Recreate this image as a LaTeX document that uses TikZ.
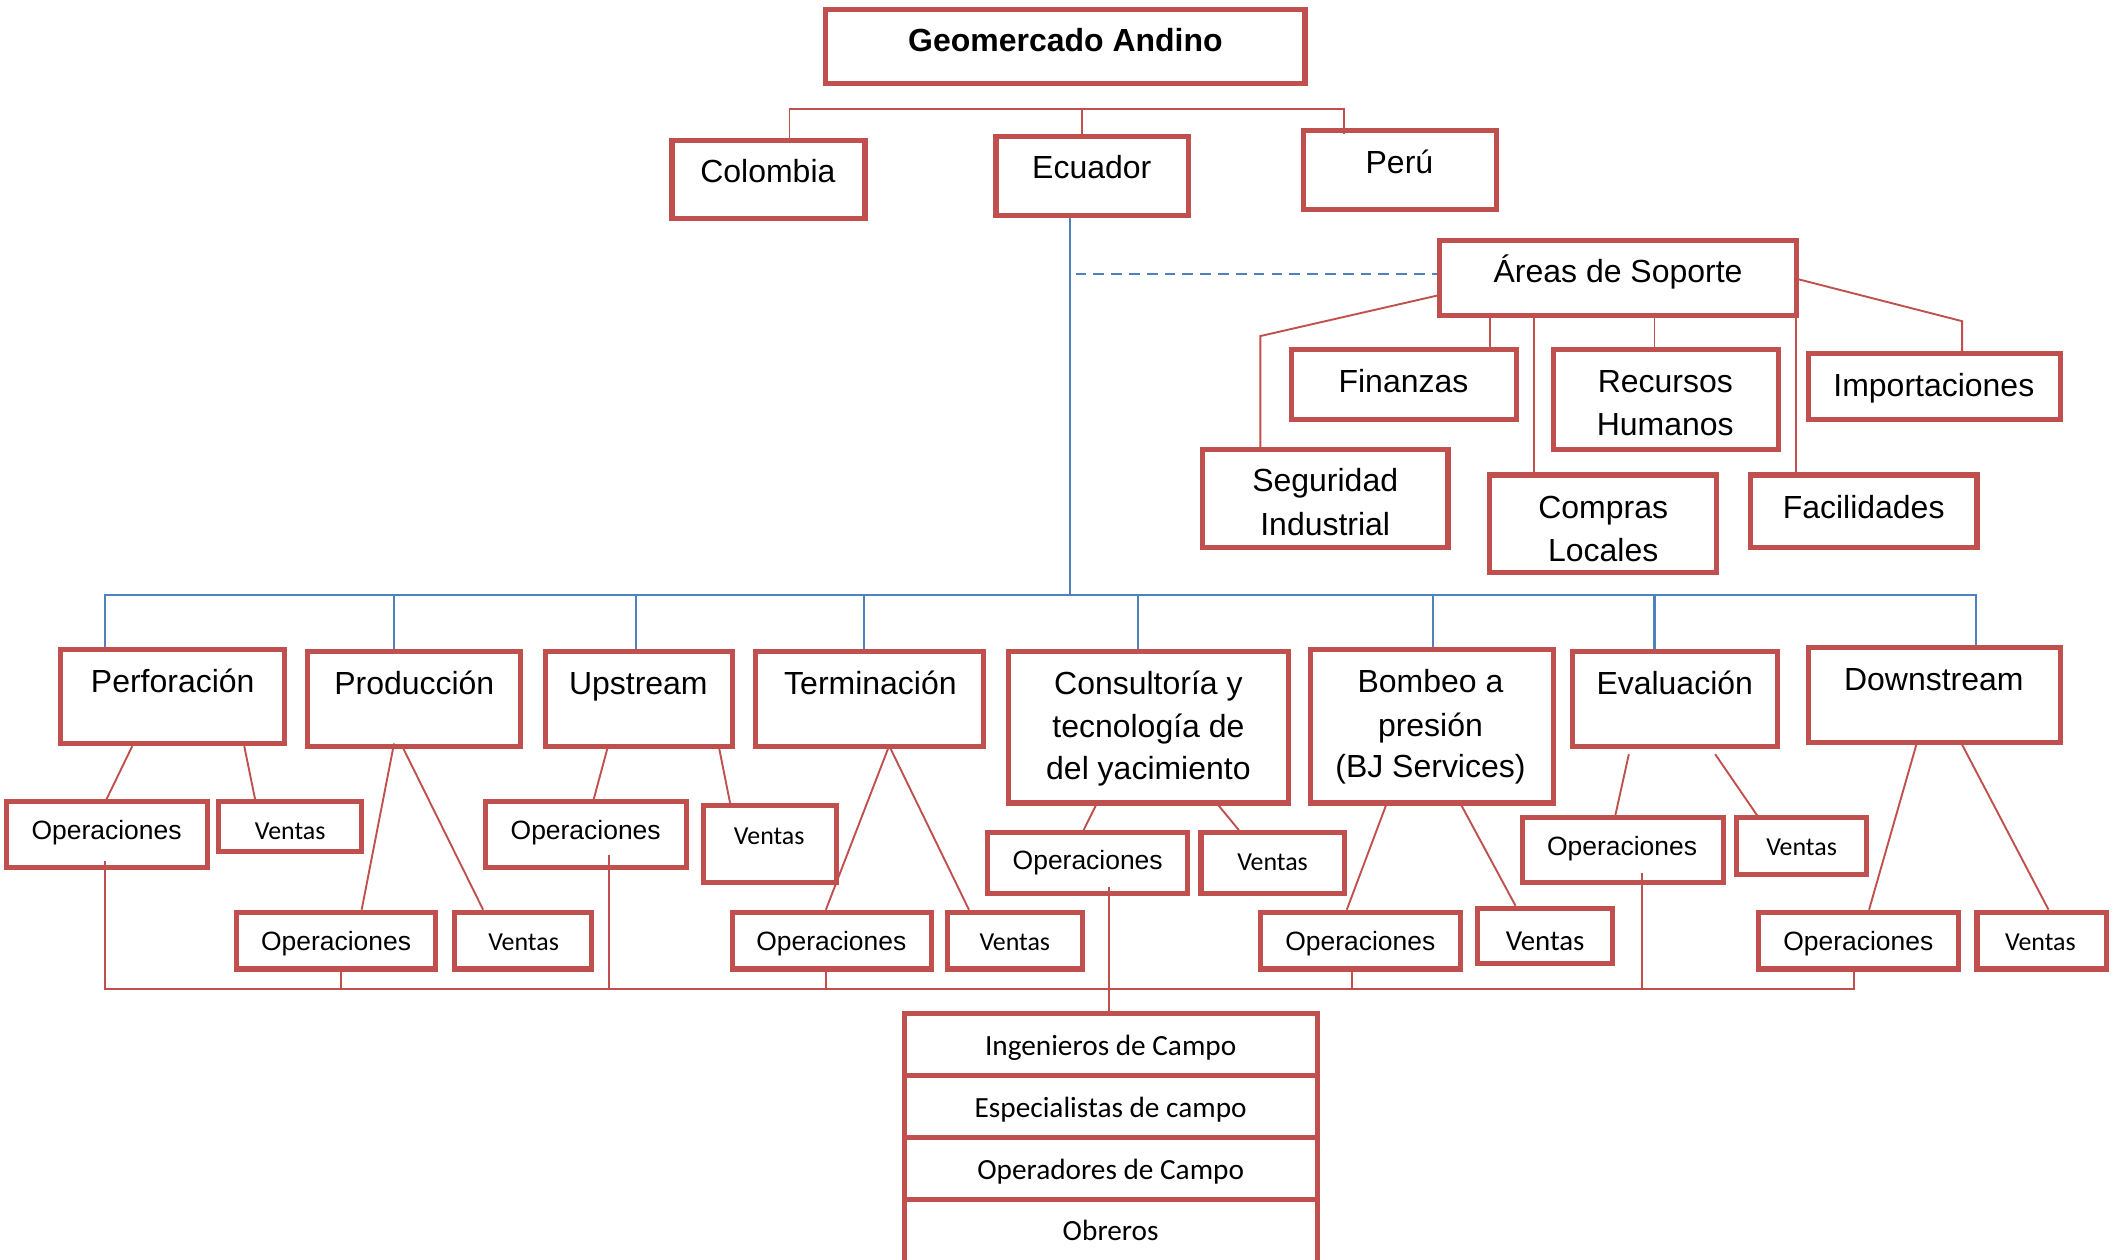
\documentclass[tikz,border=0pt]{standalone}
\usepackage{fontspec}
\setmainfont{Liberation Sans}
\newfontfamily\calfont{Carlito}
\usetikzlibrary{fit,calc}
\definecolor{bred}{HTML}{C0504D}
\definecolor{bblue}{HTML}{4F81BD}
\newcommand\bx[5]{\node[obox, fit={(#2,#3) (#4,#5)}] (#1) {};}
\begin{document}
\begin{tikzpicture}[x=0.5pt,y=-0.5pt,
  obox/.style={draw=bred, line width=1.9pt, inner sep=0pt},
  big/.style={anchor=base, inner sep=0pt, font={\fontsize{11.85}{14}\selectfont}},
  ttl/.style={anchor=base, inner sep=0pt, font={\bfseries\fontsize{11.85}{14}\selectfont}},
  ops/.style={anchor=base, inner sep=0pt, font={\fontsize{9.8}{12}\selectfont}},
  ven/.style={anchor=base, inner sep=0pt, font={\calfont\fontsize{9.6}{12}\selectfont}},
  stk/.style={anchor=base, inner sep=0pt, font={\calfont\fontsize{10.85}{13}\selectfont}},
  rl/.style={draw=bred, line width=0.7pt},
  bl/.style={draw=bblue, line width=0.8pt},
  bd/.style={draw=bblue, line width=0.9pt, dash pattern=on 4pt off 2.6pt}]
\useasboundingbox (0,0) rectangle (1568,933);
\fill[white] (0,0) rectangle (1568,933);
% boxes
\bx{geo}{612}{7}{967}{62}
\bx{col}{498}{104}{641}{162}
\bx{ecu}{738}{101}{881}{160}
\bx{peru}{966}{97}{1109}{155}
\bx{are}{1067}{178}{1331}{234}
\bx{fin}{957}{259}{1124}{311}
\bx{rec}{1151}{259}{1318}{333}
\bx{imp}{1340}{262}{1527}{311}
\bx{seg}{891}{333}{1073}{406}
\bx{com}{1104}{352}{1272}{424}
\bx{fac}{1297}{352}{1465}{406}
\bx{perf}{45}{481}{211}{551}
\bx{prod}{228}{483}{386}{553}
\bx{ups}{404}{483}{543}{553}
\bx{ter}{560}{483}{729}{553}
\bx{con}{747}{483}{955}{595}
\bx{bom}{971}{481}{1151}{595}
\bx{eva}{1165}{483}{1317}{553}
\bx{dow}{1340}{480}{1527}{550}
\bx{perfo}{5}{594}{154}{643}
\bx{perfv}{162}{594}{268}{631}
\bx{prodo}{175}{676}{323}{718}
\bx{prodv}{337}{676}{438}{718}
\bx{upso}{360}{594}{509}{643}
\bx{upsv}{521}{597}{620}{654}
\bx{tero}{543}{676}{690}{718}
\bx{terv}{702}{676}{802}{718}
\bx{cono}{732}{617}{880}{662}
\bx{conv}{890}{617}{996}{662}
\bx{bomo}{934}{676}{1082}{718}
\bx{bomv}{1095}{673}{1195}{714}
\bx{evao}{1128}{606}{1277}{654}
\bx{evav}{1287}{606}{1383}{648}
\bx{dowo}{1303}{676}{1451}{718}
\bx{dowv}{1465}{676}{1561}{718}
\bx{st1}{670}{751}{976}{797}
\bx{st2}{670}{797}{976}{843}
\bx{st3}{670}{843}{976}{889}
\bx{st4}{670}{889}{976}{945}
% texts
\node[ttl] (geo-t) at (789.5,38.5) {Geomercado Andino};
\node[big] (col-t) at (569,135.5) {Colombia};
\node[big] (ecu-t) at (809,132.5) {Ecuador};
\node[big] (peru-t) at (1037,128.5) {Perú};
\node[big] (are-t) at (1199,209.5) {Áreas de Soporte};
\node[big] (fin-t) at (1040,290.5) {Finanzas};
\node[big] (rec-t1) at (1234,290.5) {Recursos};
\node[big] (rec-t2) at (1234,322.5) {Humanos};
\node[big] (imp-t) at (1433,293.5) {Importaciones};
\node[big] (seg-t1) at (982,364.5) {Seguridad};
\node[big] (seg-t2) at (982,396.5) {Industrial};
\node[big] (com-t1) at (1188,384.5) {Compras};
\node[big] (com-t2) at (1188,416) {Locales};
\node[big] (fac-t) at (1381,384.5) {Facilidades};
\node[big] (perf-t) at (128,513.5) {Perforación};
\node[big] (prod-t) at (307,514.5) {Producción};
\node[big] (ups-t) at (473,514.5) {Upstream};
\node[big] (ter-t) at (645,514.5) {Terminación};
\node[big] (con-t1) at (851,514.5) {Consultoría y};
\node[big] (con-t2) at (851,546.5) {tecnología de};
\node[big] (con-t3) at (851,577.5) {del yacimiento};
\node[big] (bom-t1) at (1060,513.5) {Bombeo a};
\node[big] (bom-t2) at (1060,545.5) {presión};
\node[big] (bom-t3) at (1060,576) {(BJ Services)};
\node[big] (eva-t) at (1241,514.5) {Evaluación};
\node[big] (dow-t) at (1433,511.5) {Downstream};
\node[ops] (perfo-t) at (79,622) {Operaciones};
\node[ops] (prodo-t) at (249,704) {Operaciones};
\node[ops] (upso-t) at (434,622) {Operaciones};
\node[ops] (tero-t) at (616,704) {Operaciones};
\node[ops] (cono-t) at (806,644) {Operaciones};
\node[ops] (bomo-t) at (1008,704) {Operaciones};
\node[ops] (evao-t) at (1202,634) {Operaciones};
\node[ops] (dowo-t) at (1377,704) {Operaciones};
\node[ven] (perfv-t) at (215,622) {Ventas};
\node[ven] (prodv-t) at (388,704) {Ventas};
\node[ven] (upsv-t) at (570,626) {Ventas};
\node[ven] (terv-t) at (752,704) {Ventas};
\node[ven] (conv-t) at (943,645) {Ventas};
\node[ven, font={\calfont\fontsize{10.7}{12}\selectfont}] (bomv-t) at (1145,704) {Ventas};
\node[ven] (evav-t) at (1335,634) {Ventas};
\node[ven] (dowv-t) at (1512,704) {Ventas};
\node[stk] (st1-t) at (823,782) {Ingenieros de Campo};
\node[stk] (st2-t) at (823,828) {Especialistas de campo};
\node[stk] (st3-t) at (823,874) {Operadores de Campo};
\node[stk] (st4-t) at (823,919) {Obreros};
% bus coordinates
\coordinate (tbus) at (0,81);
\coordinate (bbus) at (0,441);
\coordinate (rbus) at (0,733);
\coordinate (dstart) at (797,203);
% top connectors
\draw[rl] (col.north -| 585,0) -- (tbus -| 585,0) -- (tbus -| 996,0) -- ($(peru.north -| 996,0)+(0,4)$);
\draw[rl] (tbus -| 802,0) -- (ecu.north -| 802,0);
% Ecuador down and support
\draw[bl] (ecu.south -| 793,0) -- (bbus -| 793,0);
\draw[bd] (dstart) -- (are.west |- dstart);
\draw[rl] (are.west |- 0,219) -- (934,249) -- (seg.north -| 934,0);
\draw[rl] (are.south -| 1104,0) -- (fin.north -| 1104,0);
\draw[rl] (are.south -| 1137,0) -- (com.north -| 1137,0);
\draw[rl] (are.south -| 1226,0) -- (rec.north -| 1226,0);
\draw[rl] (are.south -| 1331,0) -- (fac.north -| 1331,0);
\draw[rl] (are.east |- 0,207) -- (1454,238) -- (imp.north -| 1454,0);
% blue bus
\draw[bl] (perf.north -| 78,0) -- (bbus -| 78,0) -- (bbus -| 1464,0) -- (dow.north -| 1464,0);
\draw[bl] (bbus -| 292,0) -- (prod.north -| 292,0);
\draw[bl] (bbus -| 471,0) -- (ups.north -| 471,0);
\draw[bl] (bbus -| 640,0) -- (ter.north -| 640,0);
\draw[bl] (bbus -| 843,0) -- (con.north -| 843,0);
\draw[bl] (bbus -| 1062,0) -- (bom.north -| 1062,0);
\draw[bl] (bbus -| 1226,0) -- (eva.north -| 1226,0);
% department to sub-boxes
\draw[rl] (perf.south -| 98,0) -- (perfo.north -| 79,0);
\draw[rl] (perf.south -| 181,0) -- (perfv.north -| 189,0);
\draw[rl] ($(prod.south -| 292,0)+(0,-4)$) -- (prodo.north -| 268,0);
\draw[rl] (prod.south -| 299,0) -- (prodv.north -| 358,0);
\draw[rl] (ups.south -| 450,0) -- (upso.north -| 440,0);
\draw[rl] (ups.south -| 533,0) -- (upsv.north -| 541,0);
\draw[rl] (ter.south -| 658,0) -- (tero.north -| 612,0);
\draw[rl] (ter.south -| 660,0) -- (terv.north -| 718,0);
\draw[rl] (con.south -| 812,0) -- (cono.north -| 803,0);
\draw[rl] (con.south -| 903,0) -- (conv.north -| 918,0);
\draw[rl] (bom.south -| 1027,0) -- (bomo.north -| 998,0);
\draw[rl] (bom.south -| 1083,0) -- (bomv.north -| 1123,0);
\draw[rl] ($(eva.south -| 1207,0)+(0,4)$) -- (evao.north -| 1197,0);
\draw[rl] ($(eva.south -| 1271,0)+(0,4)$) -- (evav.north -| 1302,0);
\draw[rl] (dow.south -| 1420,0) -- (dowo.north -| 1385,0);
\draw[rl] (dow.south -| 1454,0) -- (dowv.north -| 1518,0);
% bottom red bus
\draw[rl] ($(perfo.south -| 78,0)+(0,-7)$) -- (rbus -| 78,0) -- (rbus -| 1374,0) -- (dowo.south -| 1374,0);
\draw[rl] (prodo.south -| 253,0) -- (rbus -| 253,0);
\draw[rl] ($(upso.south -| 451,0)+(0,-11)$) -- (rbus -| 451,0);
\draw[rl] (tero.south -| 612,0) -- (rbus -| 612,0);
\draw[rl] (bomo.south -| 1002,0) -- (rbus -| 1002,0);
\draw[rl] ($(evao.south -| 1217,0)+(0,-9)$) -- (rbus -| 1217,0);
\draw[rl] ($(cono.south -| 822,0)+(0,-7)$) -- (st1.north -| 822,0);
\end{tikzpicture}
\end{document}
